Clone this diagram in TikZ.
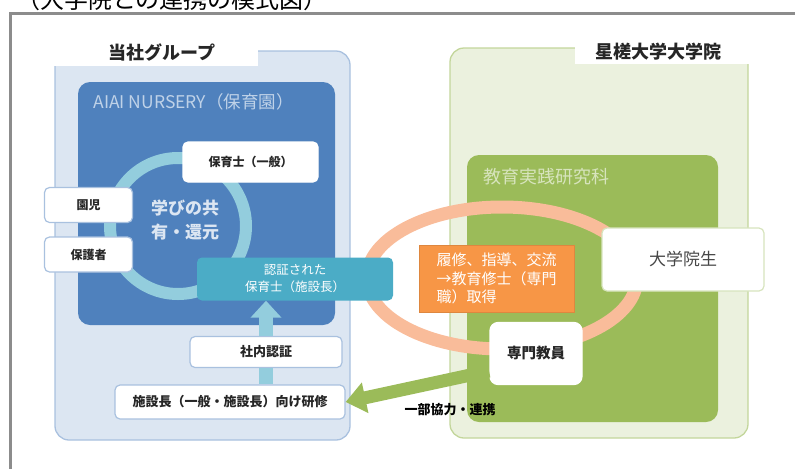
\documentclass[tikz,border=0pt]{standalone}
\usepackage{fontspec}
\setmainfont{Noto Sans CJK JP}
\usetikzlibrary{arrows.meta}
\definecolor{framegray}{HTML}{8C8C8C}
\definecolor{lbfill}{HTML}{DCE6F2}
\definecolor{lbdraw}{HTML}{A9C1DF}
\definecolor{nblue}{HTML}{4F81BD}
\definecolor{ntext}{HTML}{BFD2E8}
\definecolor{ringblue}{HTML}{93CDDD}
\definecolor{teal}{HTML}{4BACC6}
\definecolor{lgfill}{HTML}{EBF1DE}
\definecolor{lgdraw}{HTML}{C3D69B}
\definecolor{ngreen}{HTML}{9BBB59}
\definecolor{gtext}{HTML}{D7E4BD}
\definecolor{salmon}{HTML}{F9BC9A}
\definecolor{orangebox}{HTML}{F79646}
\definecolor{darktext}{HTML}{262626}
\begin{document}
\begin{tikzpicture}[x=1pt,y=-1pt,
  wbox/.style={draw=lbdraw, line width=1.2pt, fill=white, rounded corners=5pt, inner sep=0pt, align=center, text=darktext},
  gbox/.style={wbox, draw=gtext},
  fs/.style 2 args={font=\fontsize{#1}{#2}\selectfont\bfseries},
  fn/.style 2 args={font=\fontsize{#1}{#2}\selectfont}]
\useasboundingbox (0,0) rectangle (795,469);
% title (cut off at top, as in the reference)
\node[fn={24}{28}, text=black, anchor=center] (title) at (172,-1) {（大学院との連携の模式図）};
% frame
\draw[framegray, line width=3pt] (795,13) -- (10,13) -- (10,469);
% group boxes
\draw[fill=lbfill, draw=lbdraw, line width=1.3pt, rounded corners=14pt] (55,51) rectangle (350,440);
\fill[white] (53,38) rectangle (258,66);
\node[fs={18}{22}, text=darktext] (grpL) at (162,52) {当社グループ};
\draw[fill=lgfill, draw=lgdraw, line width=1.3pt, rounded corners=14pt] (450,48) rectangle (748,438);
\fill[white] (575,36) rectangle (751,64);
\node[fs={18}{22}, text=darktext] (grpR) at (658,52) {星槎大学大学院};
% inner boxes
\fill[nblue, rounded corners=12pt] (78,82) rectangle (335,325);
\node[fn={17.5}{21}, text=ntext, anchor=west] (nursery) at (90,102) {AIAI NURSERY（保育園）};
\fill[ngreen, rounded corners=12pt] (467,155) rectangle (718,422);
\node[fn={18}{22}, text=gtext, anchor=west] (kenkyu) at (480,177) {教育実践研究科};
% rings
\draw[salmon, line width=13pt] (502,278) ellipse [x radius=135pt, y radius=71pt];
\draw[ringblue, line width=12pt] (178,226) circle [radius=68pt];
\node[fs={17}{24}, text=lbfill, align=center] (manabi) at (185,220) {学びの共\\有・還元};
% white boxes left
\node[wbox, draw=white, fs={12}{15}, minimum width=135pt, minimum height=40pt] (hoiku) at (250.5,162) {保育士（一般）};
\node[wbox, fs={12}{15}, minimum width=88pt, minimum height=35pt] (enji) at (88.5,205) {園児};
\node[wbox, fs={12}{15}, minimum width=88pt, minimum height=35pt] (hogo) at (88.5,254.5) {保護者};
\node[fill=teal, rounded corners=5pt, inner sep=0pt, minimum width=196pt, minimum height=43pt, text=white, align=center, fn={12.5}{17}] (nin) at (295,279) {認証された\\保育士（施設長）};
\node[wbox, fs={13}{16}, minimum width=152pt, minimum height=31pt] (shanai) at (266,352) {社内認証};
\node[wbox, fs={13}{16}, minimum width=230pt, minimum height=34pt] (kenshu) at (230,402) {施設長（一般・施設長）向け研修};
% light blue arrows
\draw[ringblue, line width=14pt] (shanai.south) -- (shanai.south |- kenshu.north);
\draw[ringblue, line width=14pt, -{Triangle[width=30pt,length=17pt]}] (shanai.north) -- (shanai.north |- nin.south);
% right boxes
\node[fill=orangebox, draw=orangebox!90!black, line width=0.6pt, inner sep=0pt, minimum width=155pt, minimum height=67pt, text=white, align=left, fn={15}{18.5}] (rishu) at (496.5,278.5) {履修、指導、交流\\→教育修士（専門\\職）取得};
\node[gbox, fn={17}{20}, text=darktext!85, minimum width=162pt, minimum height=63pt] (insei) at (683,259.5) {大学院生};
\node[wbox, draw=white, fs={14.5}{18}, minimum width=92pt, minimum height=62pt, rounded corners=8pt] (senmon) at (536,353.5) {専門教員};
% green arrow
\coordinate (gstart) at (489,371);
\draw[ngreen, line width=13pt, -{Triangle[width=30pt,length=20pt]}] (gstart) -- (kenshu.east);
\node[fs={13}{16}, text=black] (renkei) at (450,410) {一部協力・連携};
\end{tikzpicture}
\end{document}
